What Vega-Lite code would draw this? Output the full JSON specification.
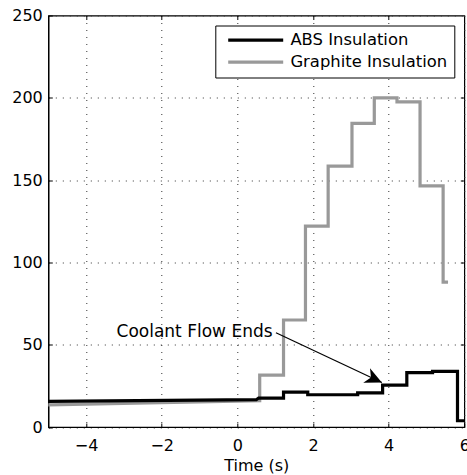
{
  "$schema": "https://vega.github.io/schema/vega-lite/v6.json",
  "width": 416,
  "height": 411.5,
  "autosize": {"type": "none"},
  "padding": {"left": 48.3, "top": 15.5, "right": 2.7, "bottom": 48},
  "background": "white",
  "config": {
    "view": {"stroke": "black", "strokeWidth": 1.2},
    "font": "DejaVu Sans",
    "axis": {
      "labelFont": "DejaVu Sans",
      "labelFontSize": 16,
      "labelColor": "black",
      "labelFlush": false,
      "titleFont": "DejaVu Sans",
      "titleFontSize": 16,
      "titleFontWeight": "normal",
      "titleColor": "black",
      "domainColor": "black",
      "domainWidth": 1.2,
      "tickColor": "black",
      "tickWidth": 1
    },
    "legend": {"strokeColor": "black", "fillColor": "white", "strokeWidth": 1}
  },
  "datasets": {
    "lines": [
      {"series": "Graphite Insulation", "i": 1, "t": -5, "v": 13.5},
      {"series": "Graphite Insulation", "i": 2, "t": 0.59, "v": 16},
      {"series": "Graphite Insulation", "i": 3, "t": 0.59, "v": 31.5},
      {"series": "Graphite Insulation", "i": 4, "t": 1.22, "v": 31.5},
      {"series": "Graphite Insulation", "i": 5, "t": 1.22, "v": 65},
      {"series": "Graphite Insulation", "i": 6, "t": 1.8, "v": 65},
      {"series": "Graphite Insulation", "i": 7, "t": 1.8, "v": 122},
      {"series": "Graphite Insulation", "i": 8, "t": 2.4, "v": 122},
      {"series": "Graphite Insulation", "i": 9, "t": 2.4, "v": 158.5},
      {"series": "Graphite Insulation", "i": 10, "t": 3.03, "v": 158.5},
      {"series": "Graphite Insulation", "i": 11, "t": 3.03, "v": 184.5},
      {"series": "Graphite Insulation", "i": 12, "t": 3.62, "v": 184.5},
      {"series": "Graphite Insulation", "i": 13, "t": 3.62, "v": 200},
      {"series": "Graphite Insulation", "i": 14, "t": 4.22, "v": 200},
      {"series": "Graphite Insulation", "i": 15, "t": 4.22, "v": 197.5},
      {"series": "Graphite Insulation", "i": 16, "t": 4.83, "v": 197.5},
      {"series": "Graphite Insulation", "i": 17, "t": 4.83, "v": 146.5},
      {"series": "Graphite Insulation", "i": 18, "t": 5.44, "v": 146.5},
      {"series": "Graphite Insulation", "i": 19, "t": 5.44, "v": 88},
      {"series": "Graphite Insulation", "i": 20, "t": 5.57, "v": 88},
      {"series": "ABS Insulation", "i": 1, "t": -5, "v": 15.6},
      {"series": "ABS Insulation", "i": 2, "t": 0.5, "v": 16.6},
      {"series": "ABS Insulation", "i": 3, "t": 0.56, "v": 17.6},
      {"series": "ABS Insulation", "i": 4, "t": 1.22, "v": 17.6},
      {"series": "ABS Insulation", "i": 5, "t": 1.22, "v": 21.2},
      {"series": "ABS Insulation", "i": 6, "t": 1.86, "v": 21.2},
      {"series": "ABS Insulation", "i": 7, "t": 1.86, "v": 19.6},
      {"series": "ABS Insulation", "i": 8, "t": 3.18, "v": 19.6},
      {"series": "ABS Insulation", "i": 9, "t": 3.18, "v": 20.7},
      {"series": "ABS Insulation", "i": 10, "t": 3.84, "v": 20.7},
      {"series": "ABS Insulation", "i": 11, "t": 3.84, "v": 25.4},
      {"series": "ABS Insulation", "i": 12, "t": 4.48, "v": 25.4},
      {"series": "ABS Insulation", "i": 13, "t": 4.48, "v": 33},
      {"series": "ABS Insulation", "i": 14, "t": 5.16, "v": 33},
      {"series": "ABS Insulation", "i": 15, "t": 5.16, "v": 33.8},
      {"series": "ABS Insulation", "i": 16, "t": 5.82, "v": 33.8},
      {"series": "ABS Insulation", "i": 17, "t": 5.82, "v": 3.8},
      {"series": "ABS Insulation", "i": 18, "t": 6, "v": 3.8}
    ],
    "note": [
      {"label": "Coolant Flow Ends", "tx": 0.93, "ty": 57.5, "x1": 1.02, "y1": 57.3, "x2": 3.82, "y2": 27}
    ]
  },
  "resolve": {"axis": {"x": "independent", "y": "independent"}},
  "layer": [
    {
      "data": {"name": "lines"},
      "transform": [{"filter": "datum.series === 'Graphite Insulation'"}],
      "mark": {"type": "line", "strokeWidth": 3.2, "strokeJoin": "miter", "strokeCap": "butt"},
      "encoding": {
        "x": {"field": "t", "type": "quantitative", "scale": {"domain": [-5, 6], "nice": false, "zero": false},
          "axis": {"orient": "top", "values": [-4, -2, 0, 2, 4], "labels": false, "domain": false, "grid": false, "tickSize": -4, "title": null}},
        "y": {"field": "v", "type": "quantitative", "scale": {"domain": [0, 250], "nice": false},
          "axis": {"orient": "right", "values": [50, 100, 150, 200], "labels": false, "domain": false, "grid": false, "tickSize": -4, "title": null}},
        "color": {"field": "series", "type": "nominal", "scale": {"domain": ["ABS Insulation", "Graphite Insulation"], "range": ["black", "#999999"]},
          "legend": {"title": null, "orient": "top-right", "offset": 10, "padding": 6.5, "strokeColor": "black", "fillColor": "white",
            "symbolType": "M-5,0L5,0", "symbolSize": 121, "symbolOffset": 25.7, "symbolStrokeWidth": 3.2, "labelFont": "DejaVu Sans", "labelFontSize": 16.4,
            "labelColor": "black", "labelOffset": 26.5, "labelLimit": 300, "rowPadding": 5}},
        "order": {"field": "i", "type": "quantitative"}
      }
    },
    {
      "data": {"name": "lines"},
      "transform": [{"filter": "datum.series === 'ABS Insulation'"}],
      "mark": {"type": "line", "strokeWidth": 3.2, "strokeJoin": "miter", "strokeCap": "butt"},
      "encoding": {
        "x": {"field": "t", "type": "quantitative", "scale": {"domain": [-5, 6], "nice": false, "zero": false},
          "axis": {"orient": "bottom", "values": [-4, -2, 0, 2, 4, 6], "grid": true, "gridColor": "#333333", "gridDash": [1, 6], "gridWidth": 1, "tickSize": -4, "labelPadding": 14, "title": "Time (s)", "titlePadding": 4}},
        "y": {"field": "v", "type": "quantitative", "scale": {"domain": [0, 250], "nice": false},
          "axis": {"orient": "left", "values": [0, 50, 100, 150, 200, 250], "grid": true, "gridColor": "#333333", "gridDash": [1, 6], "gridWidth": 1, "tickSize": -4, "labelPadding": 10, "title": null}},
        "color": {"field": "series", "type": "nominal", "scale": {"domain": ["ABS Insulation", "Graphite Insulation"], "range": ["black", "#999999"]},
          "legend": {"title": null, "orient": "top-right", "offset": 10, "padding": 6.5, "strokeColor": "black", "fillColor": "white",
            "symbolType": "M-5,0L5,0", "symbolSize": 121, "symbolOffset": 25.7, "symbolStrokeWidth": 3.2, "labelFont": "DejaVu Sans", "labelFontSize": 16.4,
            "labelColor": "black", "labelOffset": 26.5, "labelLimit": 300, "rowPadding": 5}},
        "order": {"field": "i", "type": "quantitative"}
      }
    },
    {
      "data": {"name": "note"},
      "mark": {"type": "text", "align": "right", "baseline": "middle", "font": "DejaVu Sans", "fontSize": 17, "color": "black"},
      "encoding": {
        "x": {"field": "tx", "type": "quantitative", "axis": null},
        "y": {"field": "ty", "type": "quantitative", "axis": null},
        "text": {"field": "label"}
      }
    },
    {
      "data": {"name": "note"},
      "mark": {"type": "rule", "color": "black", "strokeWidth": 1.2},
      "encoding": {
        "x": {"field": "x1", "type": "quantitative", "axis": null},
        "y": {"field": "y1", "type": "quantitative", "axis": null},
        "x2": {"field": "x2"},
        "y2": {"field": "y2"}
      }
    },
    {
      "data": {"name": "note"},
      "mark": {"type": "point", "shape": "M0,0L-2.1,-1L-1.5,0L-2.1,1Z", "angle": 25, "size": 256, "filled": true, "color": "black", "opacity": 1, "strokeWidth": 0},
      "encoding": {
        "x": {"field": "x2", "type": "quantitative", "axis": null},
        "y": {"field": "y2", "type": "quantitative", "axis": null}
      }
    }
  ]
}
